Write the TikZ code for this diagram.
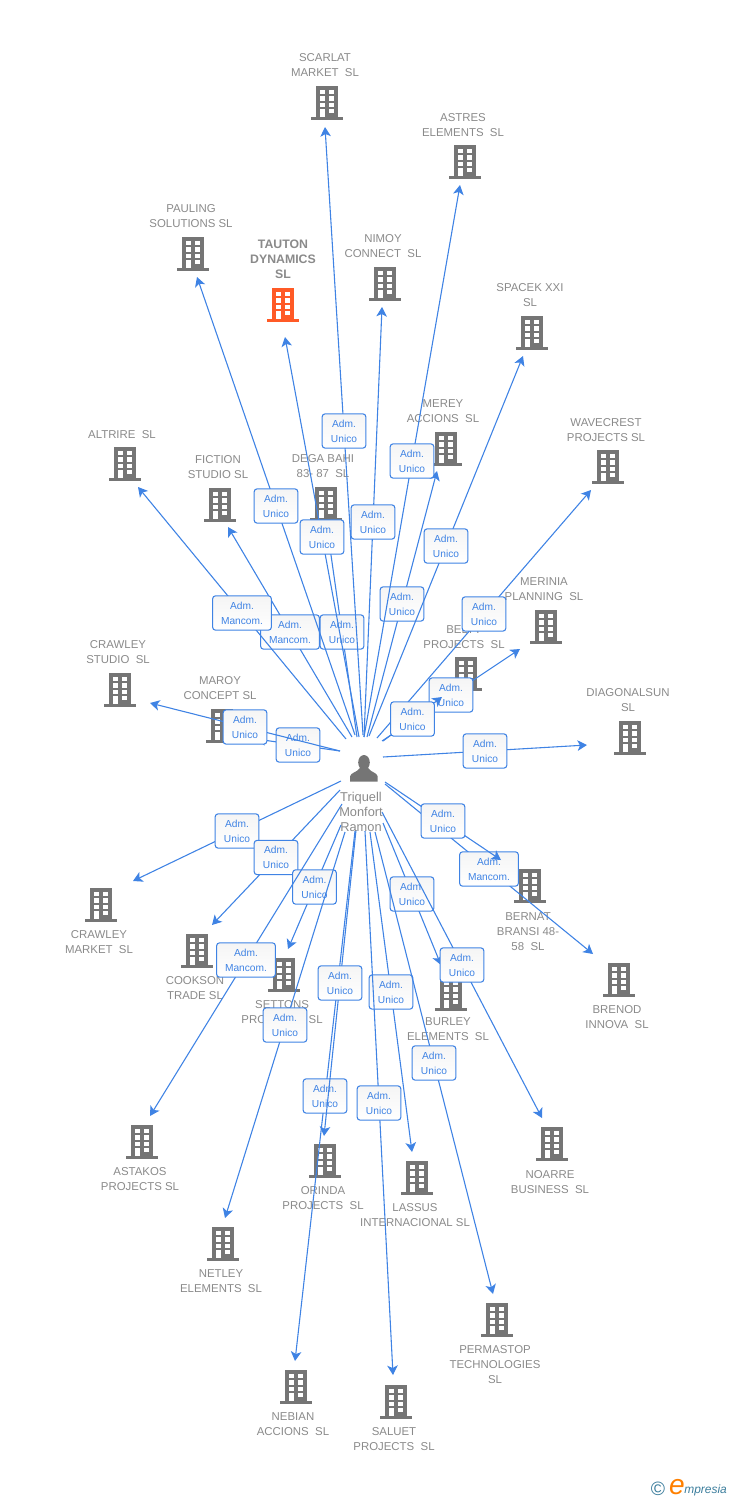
\documentclass[tikz,border=0pt]{standalone}
\usepackage{fontspec}
\setmainfont{Liberation Sans}
\usetikzlibrary{arrows.meta}
\definecolor{linkblue}{HTML}{3F83E4}
\definecolor{firmgrey}{HTML}{757575}
\definecolor{labelgrey}{HTML}{8A8A8A}
\definecolor{hotfirm}{HTML}{FF5A26}
\definecolor{logoteal}{HTML}{3B7D9C}
\tikzset{
  x=0.02cm, y=-0.02cm,
  >={Stealth[length=5.4pt,width=6pt,inset=1.4pt]},
  link/.style={linkblue, line width=0.62pt},
  firm/.style={labelgrey, align=center, inner sep=0pt, font=\fontsize{6.5}{8.5}\selectfont},
  linkbox/.style={draw=linkblue, line width=0.6pt, rounded corners=1.6pt, top color=black!4, bottom color=white,
    text=linkblue, align=center, inner sep=0pt, minimum height=19.5pt, font=\fontsize{5.8}{8.5}\selectfont},
  unicobox/.style={linkbox, minimum width=24.8pt, node contents={Adm.\\Unico}},
  mancombox/.style={linkbox, minimum width=33.4pt, node contents={Adm.\\Mancom.}},
  pics/building/.style={code={
    \fill[#1] (-11,-17) rectangle (11,15);
    \fill[#1] (-16,14.3) rectangle (16,17);
    \foreach \wy in {-13,-6.6,-0.2} {
      \fill[white] (-7.3,\wy) rectangle (-2.5,\wy+4.4);
      \fill[white] (2.4,\wy) rectangle (7.3,\wy+4.4);
    }
    \fill[white] (-7.3,6) rectangle (-2.5,14.3);
    \fill[white] (2.4,6) rectangle (7.3,10.4);
  }}
}
\begin{document}
\begin{tikzpicture}
  \useasboundingbox (0,0) rectangle (728,1500);

  % companies
  \foreach \co/\bx/\by/\lx/\ly/\lab in {
    scarlat/327/103/325/65/{SCARLAT\\MARKET~~SL},
    astres/465/162/463/125/{ASTRES\\ELEMENTS~~SL},
    pauling/193/254/191/216/{PAULING\\SOLUTIONS SL},
    nimoy/385/284/383/246/{NIMOY\\CONNECT~~SL},
    spacek/532/333/530/295/{SPACEK XXI\\SL},
    merey/446/449/443/411/{MEREY\\ACCIONS~~SL},
    wavecrest/608/467/606/430/{WAVECREST\\PROJECTS SL},
    altrire/125/464/122/434.5/{ALTRIRE~~SL},
    fiction/220/505/218/467/{FICTION\\STUDIO SL},
    dega/326/504/323/466/{DEGA BAHI\\83- 87~~SL},
    merinia/546/627/544/589/{MERINIA\\PLANNING~~SL},
    belty/466/674/464/637/{BELTY\\PROJECTS~~SL},
    crawleyst/120/690/118/652/{CRAWLEY\\STUDIO~~SL},
    maroy/222/726/220/688/{MAROY\\CONCEPT SL},
    diagonal/630/738/628/700/{DIAGONALSUN\\SL},
    crawleymk/101/905/99/942/{CRAWLEY\\MARKET~~SL},
    cookson/197/951/195/988/{COOKSON\\TRADE SL},
    settons/284/975/282/1012/{SETTONS\\PROJECTS~~SL},
    bernat/530/886/528/931.5/{BERNAT\\BRANSI 48-\\58~~SL},
    brenod/619/980/617/1017/{BRENOD\\INNOVA~~SL},
    burley/451/994/448/1029/{BURLEY\\ELEMENTS~~SL},
    astakos/142/1142/140/1179/{ASTAKOS\\PROJECTS SL},
    orinda/325/1161/323/1198/{ORINDA\\PROJECTS~~SL},
    lassus/417/1178/415/1215/{LASSUS\\INTERNACIONAL SL},
    noarre/552/1144/550/1182/{NOARRE\\BUSINESS~~SL},
    netley/223/1244/221/1281/{NETLEY\\ELEMENTS~~SL},
    permastop/497/1320/495/1364.5/{PERMASTOP\\TECHNOLOGIES\\SL},
    nebian/296/1387/293/1424/{NEBIAN\\ACCIONS~~SL},
    saluet/396/1402/394/1439/{SALUET\\PROJECTS~~SL}%
  } {
    \pic at (\bx,\by) {building=firmgrey};
    \node[firm] (\co) at (\lx,\ly) {\lab};
  }
  \pic at (283,305) {building=hotfirm};
  \node[firm, font=\fontsize{7}{8.5}\selectfont\bfseries] (tauton) at (283,259.5) {TAUTON\\DYNAMICS\\SL};

  % person
  \fill[firmgrey] (364,762.5) ellipse (5.8 and 7.5);
  \fill[firmgrey] (350,781.7) -- (350,776.5) .. controls (350.5,772.5) and (357,772.5) .. (360,768)
    -- (368,768) .. controls (371,772.5) and (377.2,772.5) .. (377.7,776.5) -- (377.7,781.7) -- cycle;

  % links, in the order in which they cover one another
  \foreach \co/\sx/\sy/\tx/\ty/\kind in {
    maroy/340/751/256/739/unicobox,
    crawleyst/340/751/150/703/unicobox,
    dega/357/737/327/527/unicobox,
    tauton/359/737/285/337/unicobox,
    fiction/352/737/228/527/mancombox,
    altrire/346/739/138/487/mancombox,
    pauling/355/735/197/277/unicobox,
    scarlat/363/735/325/127/unicobox,
    nimoy/364/737/382/307/unicobox,
    merey/367/737/437/471/unicobox,
    astres/364/737/460/185/unicobox,
    spacek/369/736/523/356/unicobox,
    wavecrest/377/738/591/490/unicobox,
    merinia/382/741/520/649/unicobox,
    belty/383/741/442/697/unicobox,
    diagonal/383/757/587/745/unicobox,
    brenod/385/784/593/954/mancombox,
    bernat/385/782/501/860/unicobox,
    crawleymk/341/781/133/881/unicobox,
    cookson/340/790/212/925/unicobox,
    settons/341/825/288/949/unicobox,
    netley/345/832/225/1218/unicobox,
    astakos/342/804/150/1116/mancombox,
    nebian/355/831/295/1361/unicobox,
    orinda/356/830/324/1136/unicobox,
    lassus/370/832/412/1152/unicobox,
    saluet/365/831/393/1375/unicobox,
    burley/383/823/441/965/unicobox,
    noarre/382/812/542/1118/unicobox,
    permastop/375/832/493/1294/unicobox%
  } {
    \coordinate (\co from) at (\sx,\sy);
    \coordinate (\co tip) at (\tx,\ty);
    \draw[link, ->] (\co from) -- (\co tip) node[midway, \kind, name=\co box];
  }

  \node[firm, font=\fontsize{7.3}{8.5}\selectfont] (triquell) at (361,811.5) {Triquell\\Monfort\\Ramon};

  % logo
  \node[logoteal, inner sep=0pt, font=\fontsize{11}{11}\selectfont] (copyr) at (658,1489) {©};
  \node[orange, inner sep=0pt, font=\fontsize{16}{16}\selectfont\itshape] (logoe) at (677,1487) {e};
  \node[logoteal, inner sep=0pt, font=\fontsize{6.8}{7}\selectfont\itshape, anchor=west] (logotxt) at (684,1490) {mpresia};
\end{tikzpicture}
\end{document}
